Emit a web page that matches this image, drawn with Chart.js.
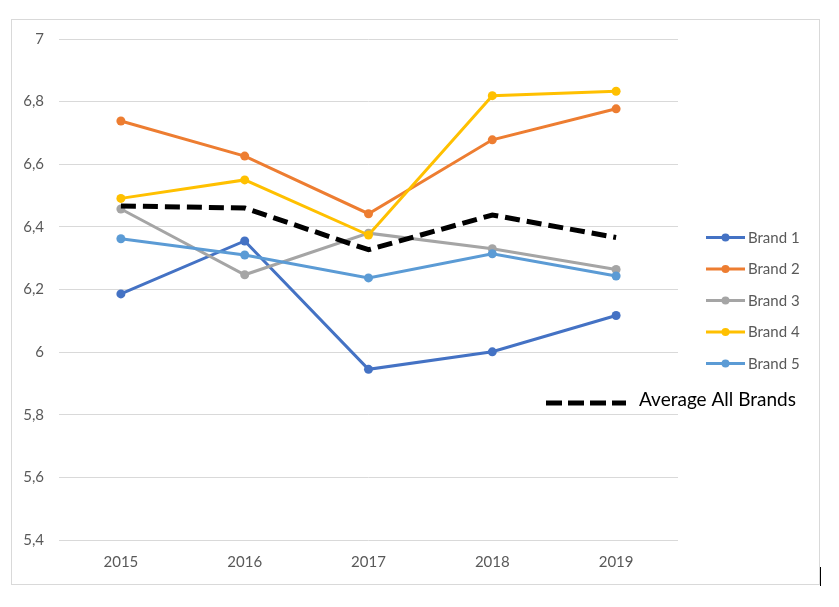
<!DOCTYPE html>
<html>
<head>
<meta charset="utf-8">
<script src="https://cdn.jsdelivr.net/npm/chart.js@4/dist/chart.umd.min.js"></script>
<style>
  html, body { margin: 0; padding: 0; background: #fff; }
  #wrap { position: relative; width: 839px; height: 607px; }
  canvas { display: block; }
</style>
</head>
<body>
<div id="wrap"><canvas id="c" width="839" height="607"></canvas></div>
<script>
const years = ["2015", "2016", "2017", "2018", "2019"];
const brand1 = [6.186, 6.355, 5.945, 6.001, 6.117];
const brand2 = [6.738, 6.626, 6.442, 6.678, 6.777];
const brand3 = [6.457, 6.247, 6.380, 6.330, 6.264];
const brand4 = [6.491, 6.550, 6.374, 6.819, 6.833];
const brand5 = [6.362, 6.310, 6.237, 6.314, 6.243];
const average = [6.467, 6.460, 6.327, 6.438, 6.366];
const yMin = 5.4, yMax = 7, yStep = 0.2;

const FONT = "Lato, 'Open Sans', 'Liberation Sans', sans-serif";
const colors = ["#4472C4", "#ED7D31", "#A5A5A5", "#FFC000", "#5B9BD5"];
const brandLabels = ["Brand 1", "Brand 2", "Brand 3", "Brand 4", "Brand 5"];
const brandData = [brand1, brand2, brand3, brand4, brand5];

const datasets = brandData.map((d, i) => ({
  label: brandLabels[i],
  data: d,
  borderColor: colors[i],
  backgroundColor: colors[i],
  borderWidth: 3,
  pointRadius: 4.5,
  pointBorderWidth: 0,
  pointBackgroundColor: colors[i],
  tension: 0,
  order: 5 - i
}));
datasets.push({
  label: "Average All Brands",
  data: average,
  borderColor: "#000000",
  backgroundColor: "#000000",
  borderWidth: 5,
  borderDash: [15, 7],
  pointRadius: 0,
  tension: 0,
  order: 0
});

const decor = {
  id: 'decor',
  beforeDraw(chart) {
    const ctx = chart.ctx;
    ctx.save();
    ctx.fillStyle = '#fff';
    ctx.fillRect(0, 0, chart.width, chart.height);
    ctx.strokeStyle = '#D9D9D9';
    ctx.lineWidth = 1;
    ctx.strokeRect(11.5, 19.5, 808, 565);
    ctx.restore();
  },
  afterDraw(chart) {
    const ctx = chart.ctx;
    ctx.save();
    // brand legend
    const x0 = 706, x1 = 745, tx = 748;
    const ys = [237.5, 269, 300.5, 332, 363.5];
    ctx.font = "15px " + FONT;
    ctx.textBaseline = 'middle';
    ctx.textAlign = 'left';
    for (let i = 0; i < 5; i++) {
      const ds = chart.data.datasets[i];
      ctx.strokeStyle = ds.borderColor;
      ctx.lineWidth = 3;
      ctx.beginPath();
      ctx.moveTo(x0, ys[i]);
      ctx.lineTo(x1, ys[i]);
      ctx.stroke();
      ctx.fillStyle = ds.borderColor;
      ctx.beginPath();
      ctx.arc((x0 + x1) / 2, ys[i], 4, 0, Math.PI * 2);
      ctx.fill();
      ctx.fillStyle = '#595959';
      ctx.fillText(ds.label, tx, ys[i] + 0.5);
    }
    // average legend
    const avg = chart.data.datasets[5];
    ctx.strokeStyle = '#000';
    ctx.lineWidth = 5;
    ctx.setLineDash([16, 6]);
    ctx.beginPath();
    ctx.moveTo(546, 403);
    ctx.lineTo(626, 403);
    ctx.stroke();
    ctx.setLineDash([]);
    ctx.fillStyle = '#000';
    ctx.font = "19px " + FONT;
    ctx.fillText(avg.label, 639, 400);
    // small cursor mark
    ctx.strokeStyle = '#000';
    ctx.lineWidth = 1;
    ctx.beginPath();
    ctx.moveTo(820.5, 567);
    ctx.lineTo(820.5, 586);
    ctx.stroke();
    ctx.restore();
  }
};

new Chart(document.getElementById('c'), {
  type: 'line',
  data: { labels: years, datasets },
  options: {
    responsive: false,
    animation: false,
    devicePixelRatio: 1,
    layout: { padding: { left: 0, right: 161, top: 39, bottom: 0 } },
    plugins: { legend: { display: false }, tooltip: { enabled: false } },
    scales: {
      x: {
        offset: true,
        grid: { display: false, drawTicks: false },
        border: { display: false },
        ticks: { color: '#595959', font: { family: FONT, size: 15 }, padding: 13 },
        afterFit(s) { s.height = 67; }
      },
      y: {
        min: yMin, max: yMax,
        grid: { color: '#D9D9D9', lineWidth: 1, drawTicks: false },
        border: { display: false },
        ticks: {
          stepSize: yStep,
          color: '#595959',
          font: { family: FONT, size: 15 },
          padding: 15,
          callback: v => (Math.round(v * 10) / 10).toString().replace('.', ',')
        },
        afterFit(s) { s.width = 59; }
      }
    }
  },
  plugins: [decor]
});
</script>
</body>
</html>
